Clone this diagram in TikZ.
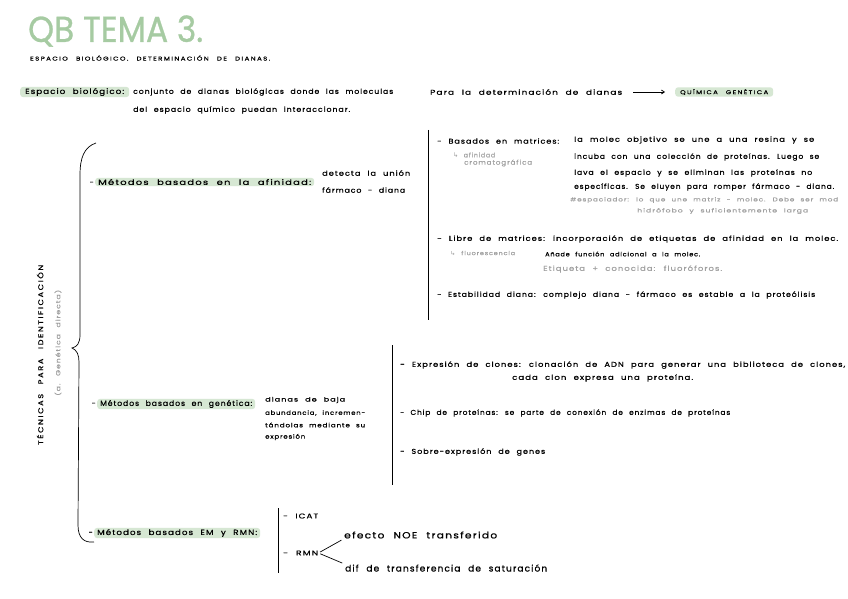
\documentclass[tikz,border=0pt]{standalone}
\usepackage{fontspec}
\usepackage{graphicx}
\setmainfont{Poppins}
\newfontfamily\hand[LetterSpace=12,WordSpace=2.2,FakeBold=0.7]{Poppins}
\newfontfamily\notef[LetterSpace=12,WordSpace=2.2,FakeBold=0.3]{Poppins}
\newfontfamily\capsfont[LetterSpace=20,WordSpace=2.5,FakeBold=0.8]{Poppins}
\newfontfamily\titlef[FakeBold=0.8]{Poppins}
\newfontfamily\symf{DejaVu Sans}
\newcommand\fw[2]{\resizebox{#1pt}{\height}{#2}}
\usetikzlibrary{arrows.meta}
\definecolor{hl}{HTML}{D6E7D3}
\definecolor{tgreen}{HTML}{A6CBA2}
\definecolor{gtext}{HTML}{A0A0A0}
\begin{document}
\begin{tikzpicture}[x=1pt,y=-1pt,
  txt/.style={anchor=west, inner sep=0pt, font=\hand\fontsize{7}{9}\selectfont},
  head/.style={txt, font=\hand\fontsize{7.5}{9}\selectfont},
  hil/.style={head, fill=hl, rounded corners=3pt, inner xsep=3pt, inner ysep=1.2pt},
  dashmark/.style={head, anchor=base east},
  note/.style={txt, text=gtext, font=\notef\fontsize{5.5}{7}\selectfont},
  big/.style={txt, font=\hand\fontsize{9}{11}\selectfont},
  small/.style={txt, font=\hand\fontsize{6}{8}\selectfont},
  caps/.style={txt, font=\capsfont\fontsize{5.5}{7}\selectfont},
  rule/.style={line width=0.9pt},
  thin/.style={line width=0.7pt}]
\useasboundingbox[fill=white] (0,0) rectangle (848,599);

% title
\node[anchor=west, inner sep=0pt, text=tgreen, font=\titlef\fontsize{36}{40}\selectfont] (title) at (28,31) {\fw{175}{QB TEMA 3.}};
\node[caps] (sub) at (30,58) {\fw{240}{ESPACIO BIOLÓGICO. DETERMINACIÓN DE DIANAS.}};

% definition
\node[hil, inner xsep=5pt] (esp) at (20,92) {\fw{99}{Espacio biológico:}};
\node[txt] (def1) at (133,92) {\fw{260}{conjunto de dianas biológicas donde las moleculas}};
\node[txt] (def2) at (133,110) {\fw{217}{del espacio químico puedan interaccionar.}};
\node[txt] (para) at (430,92) {\fw{192}{Para la determinación de dianas}};
\node[caps, fill=hl, rounded corners=3pt, inner xsep=5pt, inner ysep=1.8pt] (qg) at (675,92) {\fw{88}{QUÍMICA GENÉTICA}};
\draw[thin, -{Straight Barb[length=3pt,width=4pt]}, shorten <=11pt, shorten >=10pt] (para.east) -- (qg.west);

% brace
\draw[thin] (96,143) .. controls (84,147) and (80,158) .. (80,175) -- (80,335)
  .. controls (80,343) and (77,347) .. (72,348)
  .. controls (77,350) and (79,355) .. (79,362) -- (78,525)
  .. controls (78,538) and (84,543) .. (94,542);
\node[caps, rotate=90, font=\capsfont\fontsize{7}{8}\selectfont] (tec) at (40,445) {\fw{180}{TÉCNICAS PARA IDENTIFICACIÓN}};
\node[note, rotate=90, font=\notef\fontsize{6}{7}\selectfont] (gdir) at (58,396) {\fw{106}{(a. Genética directa)}};

% afinidad
\node[hil] (m1) at (95,182) {\fw{213}{Métodos basados en la afinidad:}};
\node[dashmark] (d1) at ([xshift=-1pt]m1.base west) {-};
\node[txt] (m1d1) at (322,173) {\fw{88}{detecta la unión}};
\node[txt] (m1d2) at (322,190) {\fw{83}{fármaco - diana}};
\draw[rule] (428,130) -- (428,320);

\node[txt] (b1) at (437,141) {\fw{122}{- Basados en matrices:}};
\node[txt] (b1a) at (574,140) {\fw{240}{la molec objetivo se une a una resina y se}};
\node[txt] (b1b) at (574,157) {\fw{245}{incuba con una colección de proteínas. Luego se}};
\node[txt] (b1c) at (574,173) {\fw{238}{lava el espacio y se eliminan las proteínas no}};
\node[txt] (b1e) at (574,187) {\fw{260}{específicas. Se eluyen para romper fármaco - diana.}};
\node[note, font=\notef\fontsize{6.5}{7}\selectfont] (g1) at (453,155) {\fw{42}{{\symf ↳} afinidad}};
\node[note, font=\notef\fontsize{6.5}{7}\selectfont] (g1b) at (464,163) {\fw{68}{cromatográfica}};
\node[note] (g2) at (570,200) {\fw{268}{\#espaciador: lo que une matriz - molec. Debe ser mod}};
\node[note] (g2b) at (637,211) {\fw{171}{hidrófobo y suficientemente larga}};

\node[txt] (b2) at (437,239) {\fw{401}{- Libre de matrices: incorporación de etiquetas de afinidad en la molec.}};
\node[note] (g3) at (450,253) {\fw{65}{{\symf ↳} fluorescencia}};
\node[small] (b2d) at (545,254) {\fw{155}{Añade función adicional a la molec.}};
\node[note, font=\notef\fontsize{7}{8}\selectfont] (g4) at (543,269) {\fw{179}{Etiqueta + conocida: fluoróforos.}};
\node[txt] (b3) at (437,295) {\fw{378}{- Estabilidad diana: complejo diana - fármaco es estable a la proteólisis}};

% genetica
\node[hil] (m2) at (97,404) {\fw{152}{Métodos basados en genética:}};
\node[dashmark] (d2) at ([xshift=-1pt]m2.base west) {-};
\node[small] (m2a) at (265,400) {\fw{80}{dianas de baja}};
\node[small] (m2b) at (265,413) {\fw{100}{abundancia, incremen-}};
\node[small] (m2c) at (265,425) {\fw{100}{tándolas mediante su}};
\node[small] (m2e) at (265,437) {\fw{40}{expresión}};
\draw[rule] (392,345) -- (392,485);
\node[txt] (c1) at (400,365) {\fw{445}{- Expresión de clones: clonación de ADN para generar una biblioteca de clones,}};
\node[txt] (c1b) at (512,378) {\fw{181}{cada clon expresa una proteína.}};
\node[txt] (c2) at (400,413) {\fw{330}{- Chip de proteínas: se parte de conexión de enzimas de proteínas}};
\node[txt] (c3) at (400,452) {\fw{145}{- Sobre-expresión de genes}};

% EM y RMN
\node[hil] (m3) at (94,533) {\fw{160}{Métodos basados EM y RMN:}};
\node[dashmark] (d3) at ([xshift=-1pt]m3.base west) {-};
\draw[rule] (278,508) -- (278,573);
\node[txt] (icat) at (283,516) {\fw{35}{- ICAT}};
\node[txt] (rmn) at (283,553) {\fw{35}{- RMN}};
\node[big] (noe) at (344,535) {\fw{153}{efecto NOE transferido}};
\node[big] (sat) at (345,568) {\fw{202}{dif de transferencia de saturación}};
\draw[thin, shorten <=2pt, shorten >=3pt] (rmn.east) -- (noe.south west);
\draw[thin, shorten <=2pt, shorten >=3pt] (rmn.east) -- (sat.north west);
\end{tikzpicture}
\end{document}
